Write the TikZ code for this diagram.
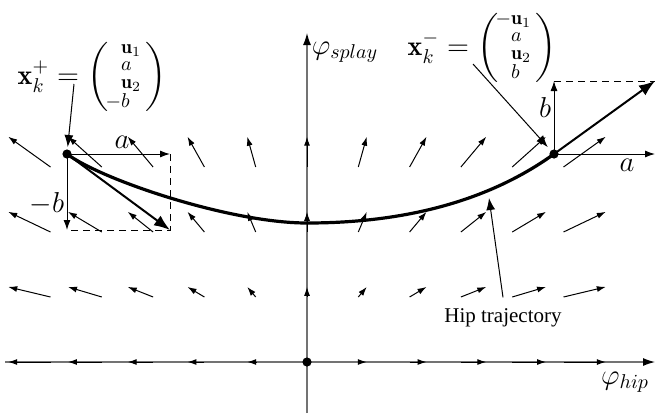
\documentclass[tikz,border=0pt]{standalone}
\usepackage{amsmath}
\usepackage{fontspec}
\newfontfamily\trajfont{Liberation Serif}
\usetikzlibrary{arrows.meta}
\begin{document}
\begin{tikzpicture}[x={(0.5pt,0)},y={(0,-0.5pt)},
  fld/.style={line width=0.5pt,-{Latex[length=4.5pt,width=3pt]}},
  axisline/.style={draw=black!55,line width=0.6pt,-{Latex[length=6pt,width=4pt,color=black]}},
  traj/.style={line width=1.6pt},
  tang/.style={line width=1pt,-{Latex[length=8pt,width=6pt]}},
  comp/.style={line width=0.5pt,-{Latex[length=5pt,width=3.5pt]}},
  dsh/.style={line width=0.5pt,dash pattern=on 3.5pt off 2.5pt},
  ptr/.style={line width=0.5pt,-{Latex[length=6pt,width=4.5pt]}},
  lbl/.style={inner sep=0pt,font=\fontsize{14}{17}\selectfont},
  dot/.style={circle,fill=black,inner sep=0pt,minimum size=4.6pt}]
\useasboundingbox (0,0) rectangle (656,418);

% axes
\coordinate (O) at (307,362);
\coordinate (xL) at (5,362);
\coordinate (xR) at (655,362);
\coordinate (yB) at (307,413);
\coordinate (yT) at (307,33);
\draw[axisline] (xL) -- (xR);
\draw[axisline] (yB) -- (yT);

% vector field
\foreach \i in {-5,...,5}{
  \foreach \j in {0,...,3}{
    \pgfmathtruncatemacro\z{abs(\i)+\j}
    \ifnum\z>0
      \draw[fld] ({307+51.3*\i},{362-65*\j}) -- ++({8.46*\i},{-10.1*\j});
    \fi
  }
}
\node[dot] at (O) {};

% points
\coordinate (P) at (67,154);
\coordinate (Pa) at (170,154);
\coordinate (Pb) at (67,230);
\coordinate (Pe) at (170,230);
\coordinate (Q) at (554,154);
\coordinate (Qa) at (655,154);
\coordinate (Qb) at (554,81);
\coordinate (Qe) at (655,81);

% trajectory
\draw[traj] (P) .. controls (102,180) and (230,223) .. (307,223)
            .. controls (397,223) and (484,204.4) .. (Q);

% left decomposition
\draw[dsh] (Pa) -- (Pe) -- (Pb);
\draw[comp] (P) -- (Pa);
\draw[comp] (P) -- (Pb);
\draw[tang] (P) -- (Pe);
% right decomposition
\draw[dsh] (Qb) -- (Qe);
\draw[comp] (Q) -- (Qa);
\draw[comp] (Q) -- (Qb);
\draw[tang] (Q) -- (Qe);

\node[dot] at (P) {};
\node[dot] at (Q) {};

% component labels
\node[lbl] (la1) at (122,142) {$a$};
\node[lbl] (lb1) at (47,204) {$-b$};
\node[lbl] (lb2) at (545,107) {$b$};
\node[lbl] (la2) at (627,165) {$a$};

% axis labels
\node[lbl] (ys) at (345,52) {$\varphi_{splay}$};
\node[lbl] (xh) at (625,382) {$\varphi_{hip}$};

% state labels
\node[lbl] (xp) at (92,77) {$\mathbf{x}_k^+ = \left(\def\arraystretch{0.52}\begin{array}{@{\hspace{6.5pt}}l@{\hspace{2pt}}}
  \scriptstyle\mathbf{u}_1\\ \scriptstyle a\\ \scriptstyle\mathbf{u}_2\\ \scriptstyle\llap{$\scriptstyle-$}b\end{array}\right)$};
\node[lbl] (xm) at (482,48) {$\mathbf{x}_k^- = \left(\def\arraystretch{0.52}\begin{array}{@{\hspace{6.5pt}}l@{\hspace{2pt}}}
  \scriptstyle\llap{$\scriptstyle-$}\mathbf{u}_1\\ \scriptstyle a\\ \scriptstyle\mathbf{u}_2\\ \scriptstyle b\end{array}\right)$};
\coordinate (xpS) at (74,84);
\coordinate (xmS) at (473,64);
\draw[ptr,shorten >=3.5pt] (xpS) -- (P);
\draw[ptr,shorten >=4.6pt] (xmS) -- (Q);

% hip trajectory label
\node[inner sep=0pt,font=\trajfont\fontsize{10.5}{12}\selectfont] (hip) at (503,318) {Hip trajectory};
\coordinate (hipT) at (489,198);
\draw[ptr] ([yshift=5.5pt]hip.north) -- (hipT);
\end{tikzpicture}
\end{document}
